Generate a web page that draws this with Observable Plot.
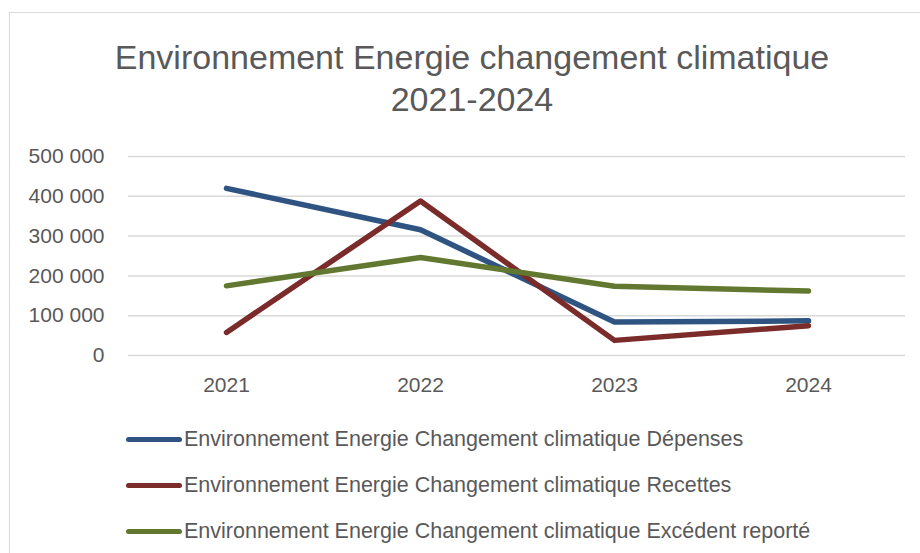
<!DOCTYPE html>
<html>
<head>
<meta charset="utf-8">
<script src="https://cdn.jsdelivr.net/npm/d3@7"></script>
<script src="https://cdn.jsdelivr.net/npm/@observablehq/plot@0.6"></script>
<style>
  html, body { margin: 0; padding: 0; background: #fff; }
  #wrap { position: relative; width: 920px; height: 553px; overflow: hidden; font-family: "Liberation Sans", Arial, sans-serif; color: #595959; }
  #frame { position: absolute; left: 9px; top: 12px; width: 940px; height: 600px; border: 1.5px solid #d9d9d9; box-sizing: border-box; }
  #title { position: absolute; left: 0; width: 944px; top: 36px; text-align: center; font-size: 34px; line-height: 42px; color: #595959; }
  #chart { position: absolute; left: 0; top: 140px; }
  #legend { position: absolute; left: 126px; top: 416px; font-size: 21.5px; }
  .item { display: flex; align-items: center; height: 46px; }
  .sw { width: 56px; height: 5px; border-radius: 3px; margin-right: 2px; }
</style>
</head>
<body>
<div id="wrap">
  <div id="frame"></div>
  <div id="title">Environnement Energie changement climatique<br>2021-2024</div>
  <div id="chart"></div>
  <div id="legend"></div>
</div>
<script>
const years = ["2021", "2022", "2023", "2024"];
const depenses = [420000, 316000, 84000, 87000];
const recettes = [58000, 388000, 38000, 75000];
const excedent = [175000, 246000, 174000, 162000];
const yTicks = [0, 100000, 200000, 300000, 400000, 500000];
const seriesNames = [
  "Environnement Energie Changement climatique Dépenses",
  "Environnement Energie Changement climatique Recettes",
  "Environnement Energie Changement climatique Excédent reporté"
];
const seriesColors = ["#2f5482", "#7a2b2a", "#62772f"];

const seriesValues = [depenses, recettes, excedent];
const data = [];
seriesValues.forEach((vals, si) => {
  vals.forEach((v, i) => data.push({ year: years[i], value: v, series: seriesNames[si] }));
});

const fmt = d3.formatLocale({ decimal: ",", thousands: " ", grouping: [3], currency: ["", " €"] }).format(",");

const plot = Plot.plot({
  width: 920,
  height: 260,
  marginLeft: 128,
  marginRight: 15,
  marginTop: 16,
  marginBottom: 45,
  style: { fontFamily: "'Liberation Sans', Arial, sans-serif", fontSize: "21px", color: "#595959", background: "transparent" },
  x: { type: "point", domain: years, padding: 0.5, label: null },
  y: { domain: [0, 500000], label: null },
  color: { domain: seriesNames, range: seriesColors },
  marks: [
    Plot.gridY(yTicks, { stroke: "#d9d9d9", strokeOpacity: 1, strokeWidth: 1.5 }),
    Plot.axisY(yTicks, { tickSize: 0, tickPadding: 24, tickFormat: fmt, fill: "#595959", fontSize: 21, label: null }),
    Plot.axisX({ tickSize: 0, tickPadding: 22, fill: "#595959", fontSize: 21, label: null }),
    Plot.line(data, { x: "year", y: "value", z: "series", stroke: "series", strokeWidth: 5.5, strokeLinecap: "round", strokeLinejoin: "round" })
  ]
});
document.getElementById("chart").appendChild(plot);

const legend = document.getElementById("legend");
seriesNames.forEach((name, i) => {
  const item = document.createElement("div");
  item.className = "item";
  const sw = document.createElement("div");
  sw.className = "sw";
  sw.style.background = seriesColors[i];
  const t = document.createElement("span");
  t.textContent = name;
  item.appendChild(sw);
  item.appendChild(t);
  legend.appendChild(item);
});
</script>
</body>
</html>
